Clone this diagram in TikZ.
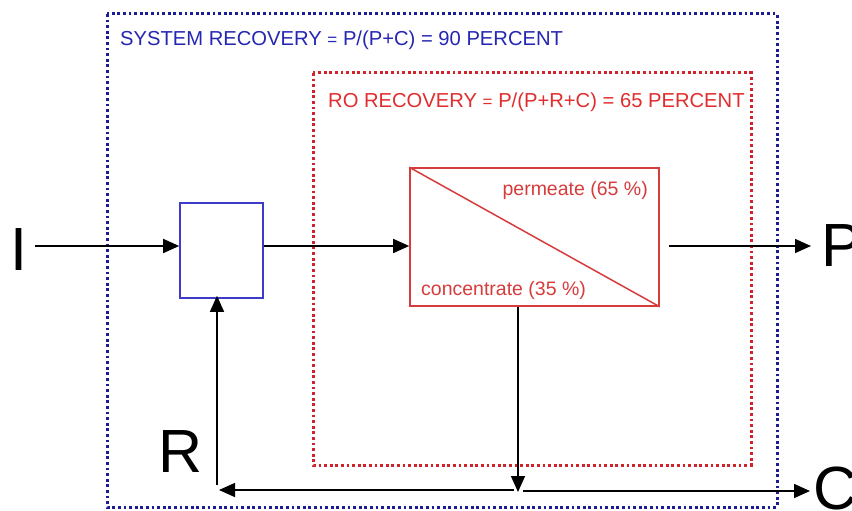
\documentclass[tikz,border=0pt]{standalone}
\usepackage{fontspec}
\setmainfont{Liberation Sans}
\usetikzlibrary{arrows.meta}
\definecolor{sysblue}{RGB}{28,28,150}
\definecolor{systext}{RGB}{38,38,180}
\definecolor{boxblue}{RGB}{60,60,200}
\definecolor{rored}{RGB}{210,35,45}
\definecolor{rotext}{RGB}{225,45,45}
\definecolor{robox}{RGB}{215,60,60}
\tikzset{
  dotbox/.style={line width=3pt, dash pattern=on 2.8pt off 2.8pt},
  flow/.style={line width=1.5pt, black, -{Triangle[length=16pt,width=14pt]}},
  bigletter/.style={font=\fontsize{61}{61}\selectfont, inner sep=0pt, anchor=base west},
  title/.style={font=\fontsize{20.2}{20}\selectfont, inner sep=0pt, anchor=base west},
  tag/.style={font=\fontsize{19.5}{20}\selectfont, inner sep=0pt, text=robox},
  unit/.style={draw, line width=1.6pt, inner sep=0pt}
}
\newcommand{\eqsign}{{\fontsize{17}{17}\selectfont =}}
\begin{document}
\begin{tikzpicture}[x=1pt,y=-1pt]
\useasboundingbox (0,0) rectangle (852,511);
\fill[white] (0,0) rectangle (852,511);

% system boundary and RO boundary
\draw[dotbox, sysblue] (107,14) rectangle (777,507);
\draw[dotbox, rored] (313,73) rectangle (751,465);

\node[title, text=systext] (systitle) at (120,46)
  {SYSTEM RECOVERY \eqsign\ P/(P+C) = 90 PERCENT};
\node[title, text=rotext] (rotitle) at (328,107)
  {RO RECOVERY \eqsign\ P/(P+R+C) = 65 PERCENT};

% mixing point and RO unit
\node[unit, draw=boxblue, minimum width=83pt, minimum height=95pt] (mixer) at (221.5,250.5) {};
\node[unit, draw=robox, minimum width=249pt, minimum height=138pt] (ro) at (534.5,237) {};
\draw[robox, line width=1.5pt] (ro.north west) -- (ro.south east);
\node[tag, anchor=base east] (perm) at (648,195) {permeate (65 \%)};
\node[tag, anchor=base west] (conc) at (421,295) {concentrate (35 \%)};

% stream letters
\node[bigletter] (feed) at (10,270) {I};
\node[bigletter] (prod) at (821,266) {P};
\node[bigletter] (recy) at (158,472) {R};
\node[bigletter] (reject) at (813,509) {C};

% flows
\coordinate (junc) at (518,492);
\coordinate (rcorner) at (217,485);
\coordinate (rtip) at (219,490);
\coordinate (ctip) at (810,491);
\coordinate (pstart) at (669,246);
\coordinate (ptip) at (811,246);

\draw[flow] (35,246) -- (mixer.west |- 0,246);
\draw[flow] (mixer.east |- 0,246) -- (ro.west |- 0,246);
\draw[flow] (pstart) -- (ptip);
\draw[flow] (ro.south -| junc) -- (junc);
\draw[flow] (514,490) -- (rtip);
\draw[flow] (523,491) -- (ctip);
\draw[flow] (rcorner) -- ([yshift=3pt]rcorner |- mixer.south);
\end{tikzpicture}
\end{document}
